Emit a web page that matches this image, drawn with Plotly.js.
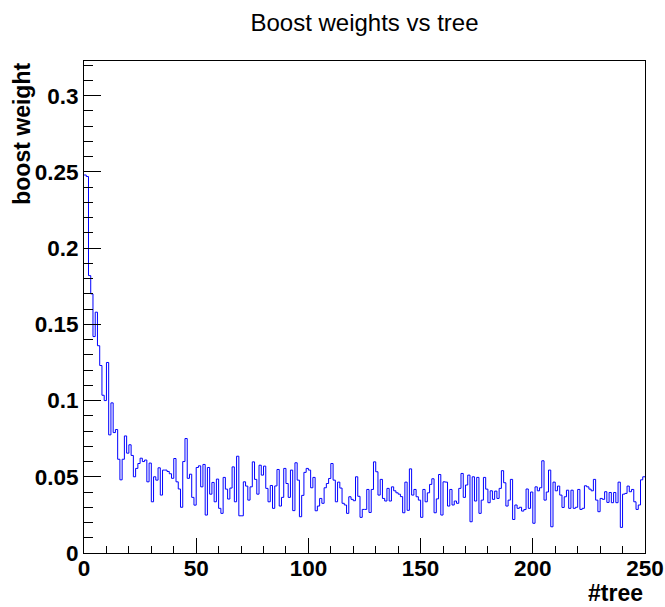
<!DOCTYPE html>
<html>
<head>
<meta charset="utf-8">
<script src="https://cdn.plot.ly/plotly-3.0.1.min.js"></script>
<style>
html,body{margin:0;padding:0;background:#ffffff;}
#chart{width:665px;height:607px;}
</style>
</head>
<body>
<div id="chart"></div>
<script>
// Boost weight per tree (bin content for trees 0..249)
const boostWeights = [
  0.248, 0.247, 0.182, 0.170, 0.142, 0.158, 0.136, 0.123, 0.1035, 0.100,
  0.125, 0.0775, 0.0985, 0.079, 0.081, 0.0615, 0.048, 0.0615, 0.0768, 0.0655,
  0.071, 0.064, 0.050, 0.0555, 0.0587, 0.0622, 0.0600, 0.0610, 0.0467, 0.0590,
  0.0336, 0.0500, 0.0478, 0.0559, 0.0380, 0.0544, 0.0544, 0.0535, 0.0520, 0.0490,
  0.0620, 0.0467, 0.0420, 0.0300, 0.0600, 0.0751, 0.0490, 0.0517, 0.0365, 0.0314,
  0.0561, 0.0572, 0.0434, 0.0581, 0.0249, 0.0561, 0.0386, 0.0463, 0.0336, 0.0485,
  0.0293, 0.0260, 0.0496, 0.0419, 0.0354, 0.0426, 0.0565, 0.0336, 0.0635, 0.0244,
  0.0244, 0.0467, 0.0439, 0.0347, 0.0434, 0.0598, 0.0483, 0.0386, 0.0576, 0.0511,
  0.0570, 0.0424, 0.0336, 0.0443, 0.0293, 0.0440, 0.0548, 0.0308, 0.0365, 0.0555,
  0.0456, 0.0365, 0.0544, 0.0278, 0.0592, 0.0478, 0.0238, 0.0378, 0.0529, 0.0555,
  0.0544, 0.0428, 0.0496, 0.0277, 0.0308, 0.0358, 0.0326, 0.0428, 0.0456, 0.0489,
  0.0587, 0.0478, 0.0336, 0.0465, 0.0426, 0.0326, 0.0315, 0.0260, 0.0369, 0.0352,
  0.0343, 0.0500, 0.0372, 0.0234, 0.0286, 0.0286, 0.0417, 0.0266, 0.0417, 0.0598,
  0.0533, 0.0380, 0.0483, 0.0358, 0.0341, 0.0424, 0.0341, 0.0434, 0.0408, 0.0395,
  0.0386, 0.0370, 0.0264, 0.0465, 0.0280, 0.0552, 0.0380, 0.0417, 0.0369, 0.0347,
  0.0234, 0.0417, 0.0336, 0.0395, 0.0450, 0.0487, 0.0264, 0.0355, 0.0515, 0.0249,
  0.0467, 0.0465, 0.0308, 0.0417, 0.0315, 0.0341, 0.0326, 0.0424, 0.0522, 0.0365,
  0.0446, 0.0511, 0.0205, 0.0500, 0.0341, 0.0496, 0.0260, 0.0347, 0.0496, 0.0419,
  0.0330, 0.0408, 0.0352, 0.0406, 0.0358, 0.0424, 0.0540, 0.0461, 0.0308, 0.0347,
  0.0483, 0.0220, 0.0315, 0.0293, 0.0300, 0.0275, 0.0285, 0.0420, 0.0293, 0.0400,
  0.0195, 0.0434, 0.0408, 0.0428, 0.0605, 0.0347, 0.0400, 0.0544, 0.0172, 0.0465,
  0.0408, 0.0439, 0.0380, 0.0299, 0.0369, 0.0412, 0.0293, 0.0412, 0.0293, 0.0300,
  0.0417, 0.0286, 0.0293, 0.0441, 0.0434, 0.0419, 0.0408, 0.0483, 0.0347, 0.0271,
  0.0358, 0.0352, 0.0402, 0.0332, 0.0397, 0.0330, 0.0397, 0.0330, 0.0465, 0.0168,
  0.0386, 0.0391, 0.0439, 0.0402, 0.0417, 0.0336, 0.0286, 0.0315, 0.0480, 0.0500
];

const chartTitle = "Boost weights vs tree";
const xTitle = "#tree";
const yTitle = "boost weight";

// bin low edges (tree index) plus the final upper edge for the step outline
const treeEdges = boostWeights.map((_, i) => i).concat([boostWeights.length]);
const stepValues = boostWeights.concat([boostWeights[boostWeights.length - 1]]);

const fontFam = "Liberation Sans, Arial, Helvetica, sans-serif";

const trace = {
  type: "scatter",
  mode: "lines",
  x: treeEdges,
  y: stepValues,
  line: {shape: "hv", color: "#0000ff", width: 1},
  hoverinfo: "x+y",
  showlegend: false
};

const layout = {
  width: 665,
  height: 607,
  margin: {l: 84, r: 20, t: 61, b: 54, pad: 0},
  paper_bgcolor: "#ffffff",
  plot_bgcolor: "#ffffff",
  showlegend: false,
  title: {
    text: chartTitle,
    font: {family: fontFam, size: 24, color: "#000000"},
    x: 0.5, xref: "paper", xanchor: "center",
    y: 0.963, yref: "container", yanchor: "middle"
  },
  xaxis: {
    range: [0, 250],
    showline: true, linecolor: "#000000", linewidth: 1, mirror: true,
    showgrid: false, zeroline: false,
    ticks: "inside", ticklen: 15, tickwidth: 1, tickcolor: "#000000",
    tick0: 0, dtick: 50,
    ticklabelstandoff: -5,
    minor: {ticks: "inside", ticklen: 7, tickwidth: 1, tickcolor: "#000000", dtick: 10, showgrid: false},
    tickfont: {family: fontFam, size: 22.5, color: "#000000", weight: "bold"},
    fixedrange: true
  },
  yaxis: {
    range: [0, 0.3228],
    showline: true, linecolor: "#000000", linewidth: 1, mirror: true,
    showgrid: false, zeroline: false,
    ticks: "inside", ticklen: 17, tickwidth: 1, tickcolor: "#000000",
    tick0: 0, dtick: 0.05,
    minor: {ticks: "inside", ticklen: 8.5, tickwidth: 1, tickcolor: "#000000", dtick: 0.01, showgrid: false},
    tickfont: {family: fontFam, size: 22.5, color: "#000000", weight: "bold"},
    fixedrange: true
  },
  annotations: [
    {
      text: xTitle, showarrow: false,
      xref: "paper", yref: "paper",
      x: 1, xanchor: "right",
      y: -0.081, yanchor: "middle",
      font: {family: fontFam, size: 23, color: "#000000", weight: "bold"}
    },
    {
      text: yTitle, showarrow: false, textangle: -90,
      xref: "paper", yref: "paper",
      x: -0.111, xanchor: "center",
      y: 1, yanchor: "top",
      font: {family: fontFam, size: 23, color: "#000000", weight: "bold"}
    }
  ]
};

Plotly.newPlot("chart", [trace], layout, {displayModeBar: false, staticPlot: true});
</script>
</body>
</html>
